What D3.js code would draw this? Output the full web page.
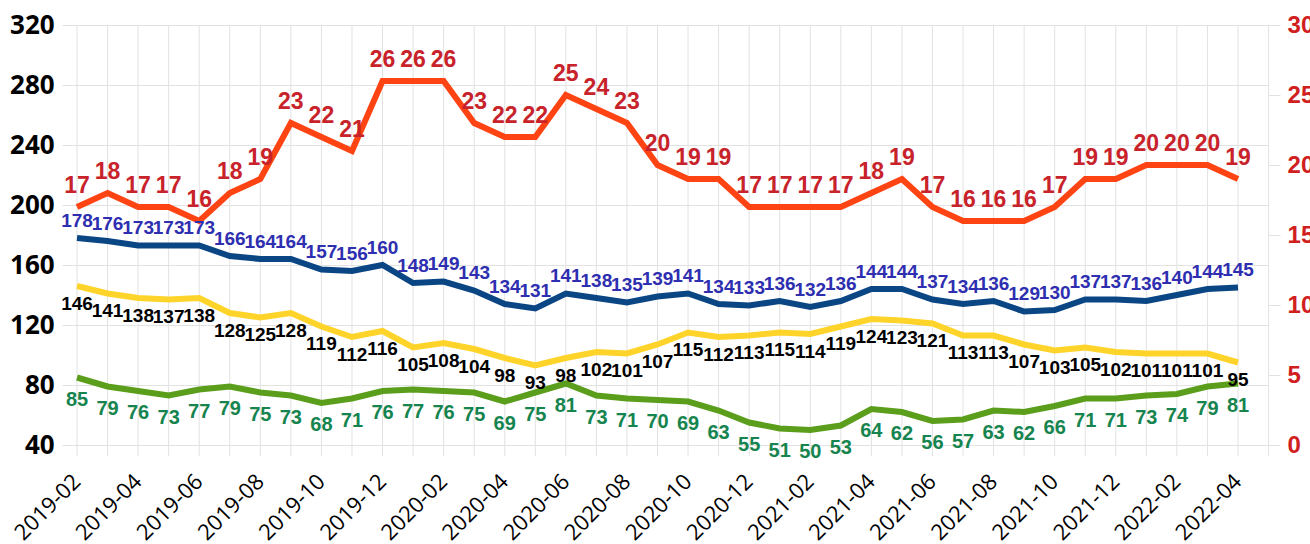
<!DOCTYPE html>
<html>
<head>
<meta charset="utf-8">
<script src="https://cdn.jsdelivr.net/npm/d3@7"></script>
<style>
  html, body { margin: 0; padding: 0; background: #fff; }
  svg { display: block; }
  .lbl { font-family: "Liberation Sans", Arial, sans-serif; font-weight: bold; }
</style>
</head>
<body>
<svg id="chart" width="1310" height="544"></svg>
<script>
  // months, 2019-02 .. 2022-04
  var months = [
    '2019-02', '2019-03', '2019-04', '2019-05', '2019-06', '2019-07', '2019-08', '2019-09', '2019-10', '2019-11', '2019-12',
    '2020-01', '2020-02', '2020-03', '2020-04', '2020-05', '2020-06', '2020-07', '2020-08', '2020-09', '2020-10', '2020-11', '2020-12',
    '2021-01', '2021-02', '2021-03', '2021-04', '2021-05', '2021-06', '2021-07', '2021-08', '2021-09', '2021-10', '2021-11', '2021-12',
    '2022-01', '2022-02', '2022-03', '2022-04'
  ];

  // right axis series
  var redValues = [17, 18, 17, 17, 16, 18, 19, 23, 22, 21, 26, 26, 26, 23, 22, 22, 25, 24, 23, 20, 19, 19, 17,
    17, 17, 17, 18, 19, 17, 16, 16, 16, 17, 19, 19, 20, 20, 20, 19];

  // left axis series
  var blueValues = [178, 176, 173, 173, 173, 166, 164, 164, 157, 156, 160, 148, 149, 143, 134, 131, 141, 138, 135, 139, 141, 134, 133,
    136, 132, 136, 144, 144, 137, 134, 136, 129, 130, 137, 137, 136, 140, 144, 145];
  var yellowValues = [146, 141, 138, 137, 138, 128, 125, 128, 119, 112, 116, 105, 108, 104, 98, 93, 98, 102, 101, 107, 115, 112, 113,
    115, 114, 119, 124, 123, 121, 113, 113, 107, 103, 105, 102, 101, 101, 101, 95];
  var greenValues = [85, 79, 76, 73, 77, 79, 75, 73, 68, 71, 76, 77, 76, 75, 69, 75, 81, 73, 71, 70, 69, 63, 55,
    51, 50, 53, 64, 62, 56, 57, 63, 62, 66, 71, 71, 73, 74, 79, 81];

  var leftTicks = [40, 80, 120, 160, 200, 240, 280, 320];
  var rightTicks = [0, 5, 10, 15, 20, 25, 30];

  var svg = d3.select('#chart');

  var plotTop = 25, plotBottom = 445;
  var x = d3.scaleLinear().domain([0, months.length - 1]).range([77, 1238]);
  var yLeft = d3.scaleLinear().domain([40, 320]).range([plotBottom, plotTop]);
  var yRight = d3.scaleLinear().domain([0, 30]).range([plotBottom, plotTop]);
  var xLeftEdge = x(-0.47), xRightEdge = x(months.length);

  // vertical grid (one per month + one extra), extending below as ticks
  var gridIdx = d3.range(0, months.length + 1);
  svg.append('g')
    .selectAll('line')
    .data(gridIdx)
    .join('line')
    .attr('x1', function (d) { return x(d); })
    .attr('x2', function (d) { return x(d); })
    .attr('y1', plotTop)
    .attr('y2', plotBottom + 11)
    .attr('stroke', '#e2e2e2')
    .attr('stroke-width', 1);

  // left axis with horizontal grid
  var leftAxis = svg.append('g')
    .attr('transform', 'translate(' + xLeftEdge + ',0)')
    .call(d3.axisLeft(yLeft).tickValues(leftTicks).tickSize(-(xRightEdge - xLeftEdge)).tickPadding(8));
  leftAxis.select('.domain').remove();
  leftAxis.selectAll('.tick line').attr('stroke', '#e2e2e2');
  leftAxis.selectAll('.tick text')
    .attr('fill', '#000')
    .style('font-family', '"Noto Sans", sans-serif')
    .style('font-weight', 'bold')
    .style('font-size', '26px');

  // right axis
  var rightAxis = svg.append('g')
    .attr('transform', 'translate(' + xRightEdge + ',0)')
    .call(d3.axisRight(yRight).tickValues(rightTicks).tickSize(12).tickPadding(7));
  rightAxis.select('.domain').remove();
  rightAxis.selectAll('.tick line').attr('stroke', '#e2e2e2');
  rightAxis.selectAll('.tick text')
    .attr('fill', '#d0201e')
    .style('font-family', '"Liberation Sans", Arial, sans-serif')
    .style('font-weight', 'bold')
    .style('font-size', '24px');

  // x labels, every other month
  svg.append('g')
    .selectAll('text')
    .data(months.map(function (m, i) { return { m: m, i: i }; }).filter(function (d) { return d.i % 2 === 0; }))
    .join('text')
    .attr('transform', function (d) { return 'translate(' + (x(d.i) + 5) + ',' + (plotBottom + 38) + ') rotate(-45)'; })
    .attr('text-anchor', 'end')
    .style('font-family', '"Open Sans", "Noto Sans", sans-serif')
    .style('font-size', '22px')
    .attr('fill', '#000')
    .text(function (d) { return d.m; });

  function drawSeries(values, yScale, color, labelColor, dy, fontSize) {
    var line = d3.line()
      .x(function (d, i) { return x(i); })
      .y(function (d) { return yScale(d); });
    svg.append('path')
      .attr('d', line(values))
      .attr('fill', 'none')
      .attr('stroke', color)
      .attr('stroke-width', 6)
      .attr('stroke-linejoin', 'miter');
    return function drawLabels() {
      svg.append('g')
        .selectAll('text')
        .data(values)
        .join('text')
        .attr('class', 'lbl')
        .attr('x', function (d, i) { return x(i); })
        .attr('y', function (d) { return yScale(d) + dy; })
        .attr('text-anchor', 'middle')
        .attr('dominant-baseline', 'central')
        .attr('fill', labelColor)
        .style('font-size', fontSize + 'px')
        .text(function (d) { return d; });
    };
  }

  var labelFns = [
    drawSeries(greenValues, yLeft, '#5a9e1c', '#16844e', 21, 20),
    drawSeries(yellowValues, yLeft, '#ffd42a', '#000', 17, 19),
    drawSeries(blueValues, yLeft, '#0b4684', '#2e2eb0', -18, 19),
    drawSeries(redValues, yRight, '#ff4414', '#c8222a', -22, 23)
  ];
  labelFns.forEach(function (fn) { fn(); });
</script>
</body>
</html>
